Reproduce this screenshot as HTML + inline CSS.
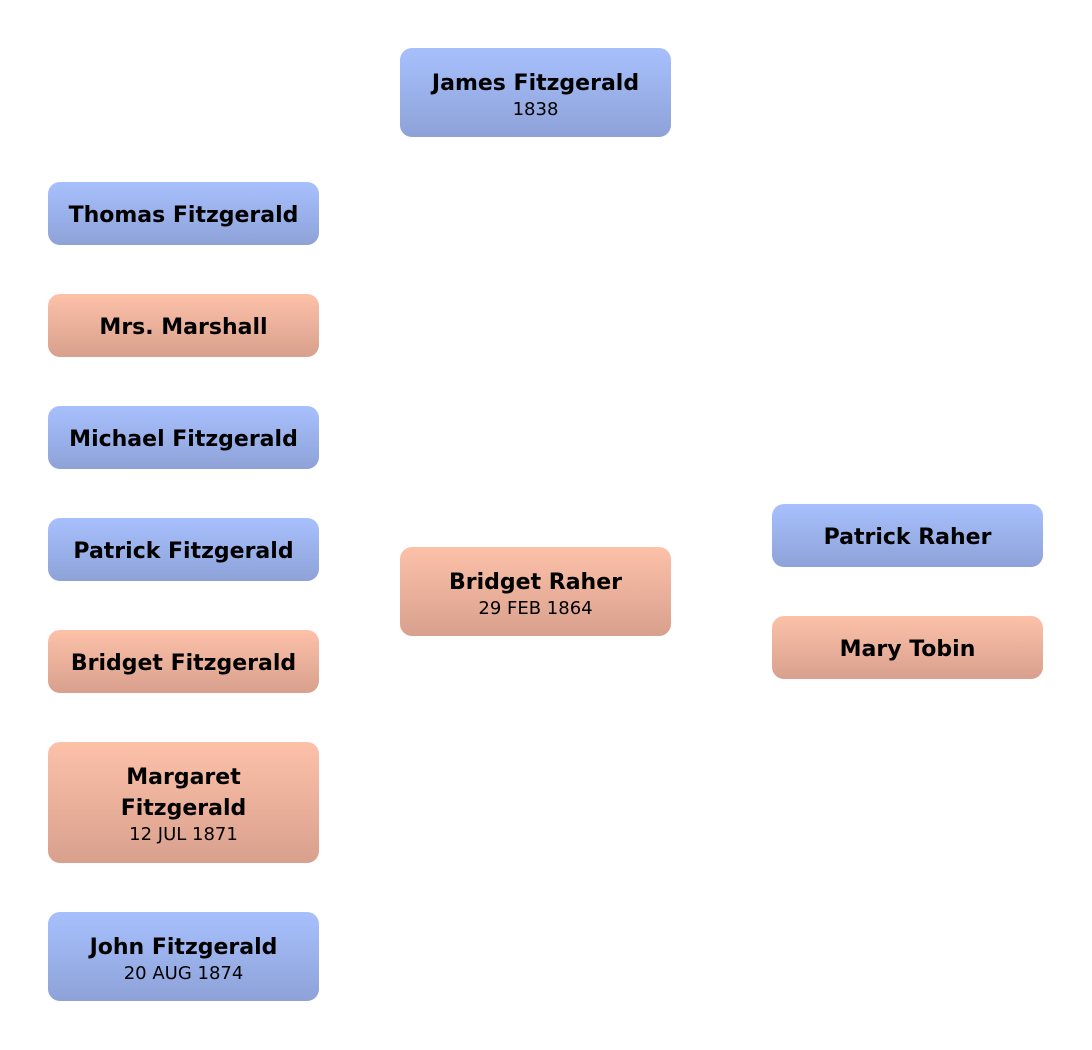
<!DOCTYPE html>
<html><head><meta charset="utf-8"><style>
body{margin:0;width:1092px;height:1050px;background:#fff;position:relative;font-family:"DejaVu Sans",sans-serif;}
.b{position:absolute;width:271px;border-radius:12px;display:flex;flex-direction:column;justify-content:center;align-items:center;text-align:center;color:#000;padding-top:3px;box-sizing:border-box;}
.m{background:linear-gradient(#a7c0fd,#8ea2d8);}
.f{background:linear-gradient(#fdc1a9,#d8a08d);}
.n{font-weight:bold;font-size:22px;line-height:31px;}
.d{font-size:18px;line-height:22px;}
</style></head><body>
<div class="b m" style="left:400px;top:48px;height:89px"><div class="n">James Fitzgerald</div><div class="d">1838</div></div>
<div class="b m" style="left:48px;top:182px;height:63px"><div class="n">Thomas Fitzgerald</div></div>
<div class="b f" style="left:48px;top:294px;height:63px"><div class="n">Mrs. Marshall</div></div>
<div class="b m" style="left:48px;top:406px;height:63px"><div class="n">Michael Fitzgerald</div></div>
<div class="b m" style="left:48px;top:518px;height:63px"><div class="n">Patrick Fitzgerald</div></div>
<div class="b f" style="left:48px;top:630px;height:63px"><div class="n">Bridget Fitzgerald</div></div>
<div class="b f" style="left:48px;top:742px;height:121px"><div class="n">Margaret<br>Fitzgerald</div><div class="d">12 JUL 1871</div></div>
<div class="b m" style="left:48px;top:912px;height:89px"><div class="n">John Fitzgerald</div><div class="d">20 AUG 1874</div></div>
<div class="b f" style="left:400px;top:547px;height:89px"><div class="n">Bridget Raher</div><div class="d">29 FEB 1864</div></div>
<div class="b m" style="left:772px;top:504px;height:63px"><div class="n">Patrick Raher</div></div>
<div class="b f" style="left:772px;top:616px;height:63px"><div class="n">Mary Tobin</div></div>
</body></html>
